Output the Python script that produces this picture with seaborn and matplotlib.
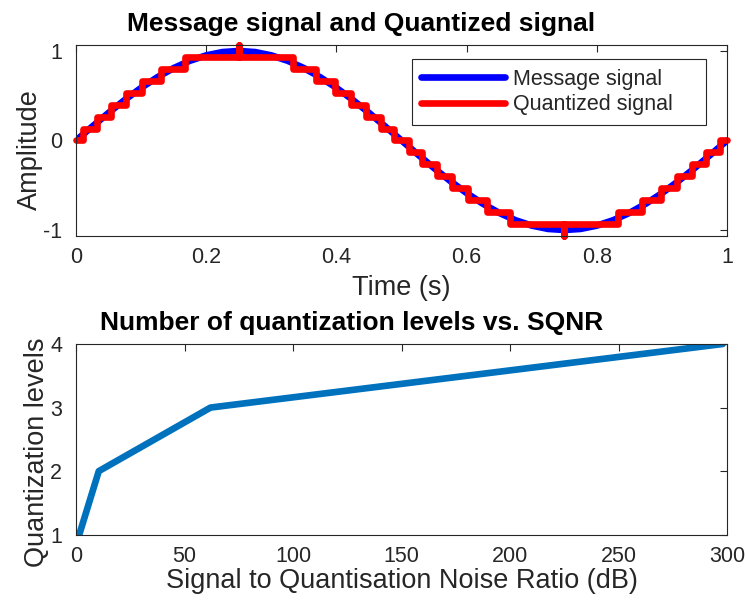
import matplotlib
matplotlib.use("Agg")
import matplotlib.pyplot as plt
import pandas as pd
import seaborn as sns

# message signal, every 0.025 s
msg_time = [0.000, 0.025, 0.050, 0.075, 0.100, 0.125, 0.150, 0.175, 0.200, 0.225,
            0.250, 0.275, 0.300, 0.325, 0.350, 0.375, 0.400, 0.425, 0.450, 0.475,
            0.500, 0.525, 0.550, 0.575, 0.600, 0.625, 0.650, 0.675, 0.700, 0.725,
            0.750, 0.775, 0.800, 0.825, 0.850, 0.875, 0.900, 0.925, 0.950, 0.975,
            1.000]
msg_amp = [0.000, 0.156, 0.309, 0.454, 0.588, 0.707, 0.809, 0.891, 0.951, 0.988,
           1.000, 0.988, 0.951, 0.891, 0.809, 0.707, 0.588, 0.454, 0.309, 0.156,
           0.000, -0.156, -0.309, -0.454, -0.588, -0.707, -0.809, -0.891, -0.951, -0.988,
           -1.000, -0.988, -0.951, -0.891, -0.809, -0.707, -0.588, -0.454, -0.309, -0.156,
           0.000]

# quantized signal: times where the staircase changes level, and the new level
q_time = [0.000, 0.011, 0.032, 0.054, 0.077, 0.102, 0.131, 0.167, 0.250, 0.250,
          0.333, 0.369, 0.398, 0.423, 0.446, 0.468, 0.489, 0.511, 0.532, 0.554,
          0.577, 0.602, 0.631, 0.667, 0.750, 0.750, 0.833, 0.869, 0.898, 0.923,
          0.946, 0.968, 0.989, 1.000]
q_level = [0.000, 0.133, 0.267, 0.400, 0.533, 0.667, 0.800, 0.933, 1.067, 0.933,
           0.800, 0.667, 0.533, 0.400, 0.267, 0.133, 0.000, -0.133, -0.267, -0.400,
           -0.533, -0.667, -0.800, -0.933, -1.067, -0.933, -0.800, -0.667, -0.533, -0.400,
           -0.267, -0.133, 0.000, 0.000]

# SQNR (dB) against number of quantization levels
sqnr_db = [1.5, 10.5, 62.0, 298.0]
n_levels = [1, 2, 3, 4]

msg = pd.DataFrame({"t": msg_time, "amp": msg_amp})
quant = pd.DataFrame({"t": q_time, "amp": q_level})
sq = pd.DataFrame({"sqnr": sqnr_db, "levels": n_levels})

sns.set_style("white")
plt.rcParams["font.family"] = ["Liberation Sans", "DejaVu Sans"]

edge = "#262626"
fig = plt.figure(figsize=(7.45, 6.04), dpi=100)
ax1 = fig.add_axes([0.102, 0.6093, 0.874, 0.3162])
ax2 = fig.add_axes([0.102, 0.1147, 0.874, 0.3158])

# top: message + quantized
sns.lineplot(data=msg, x="t", y="amp", ax=ax1, color="#0000ff", linewidth=4.8,
             estimator=None, sort=False, label="Message signal    ")
sns.lineplot(data=quant, x="t", y="amp", ax=ax1, color="#ff0000", linewidth=4.8,
             estimator=None, sort=False, drawstyle="steps-post",
             label="Quantized signal    ", clip_on=False)
ax1.set_xlim(0, 1)
ax1.set_ylim(-1.067, 1.067)
ax1.set_xticks([0, 0.2, 0.4, 0.6, 0.8, 1])
ax1.set_xticklabels(["0", "0.2", "0.4", "0.6", "0.8", "1"])
ax1.set_yticks([-1, 0, 1])
ax1.set_yticklabels(["-1", "0", "1"])
ax1.set_title("Message signal and Quantized signal", fontsize=19, fontweight="bold",
              color="black", x=0.438, pad=10)
ax1.set_xlabel("Time (s)", fontsize=19.5, color=edge, labelpad=5)
ax1.set_ylabel("Amplitude", fontsize=19.5, color=edge, labelpad=0, y=0.455)
leg = ax1.legend(loc="upper right", bbox_to_anchor=(0.968, 0.927), fontsize=15.5,
                 frameon=True, fancybox=False, framealpha=1, edgecolor=edge,
                 handlelength=3.9, handletextpad=0.35, borderpad=0.45,
                 labelspacing=0.22, borderaxespad=0)
leg.get_frame().set_linewidth(0.8)

# bottom: levels vs SQNR
sns.lineplot(data=sq, x="sqnr", y="levels", ax=ax2, color="#0072bd", linewidth=4.8,
             estimator=None, sort=False)
ax2.set_xlim(0, 300)
ax2.set_ylim(1, 4)
ax2.set_xticks([0, 50, 100, 150, 200, 250, 300])
ax2.set_yticks([1, 2, 3, 4])
ax2.set_title("Number of quantization levels vs. SQNR", fontsize=19, fontweight="bold",
              color="black", x=0.424, pad=10)
ax2.set_xlabel("Signal to Quantisation Noise Ratio (dB)", fontsize=19.5, color=edge,
               labelpad=1)
ax2.set_ylabel("Quantization levels", fontsize=19.5, color=edge, labelpad=0, y=0.43)

for ax in (ax1, ax2):
    for s in ax.spines.values():
        s.set_color(edge)
        s.set_linewidth(0.8)
    ax.tick_params(direction="in", top=True, right=True, length=5, width=0.8,
                   color=edge, labelcolor=edge, labelsize=15.5)
    ax.tick_params(axis="x", pad=8)
    ax.tick_params(axis="y", pad=10)

fig.savefig("out.png", dpi=100)
